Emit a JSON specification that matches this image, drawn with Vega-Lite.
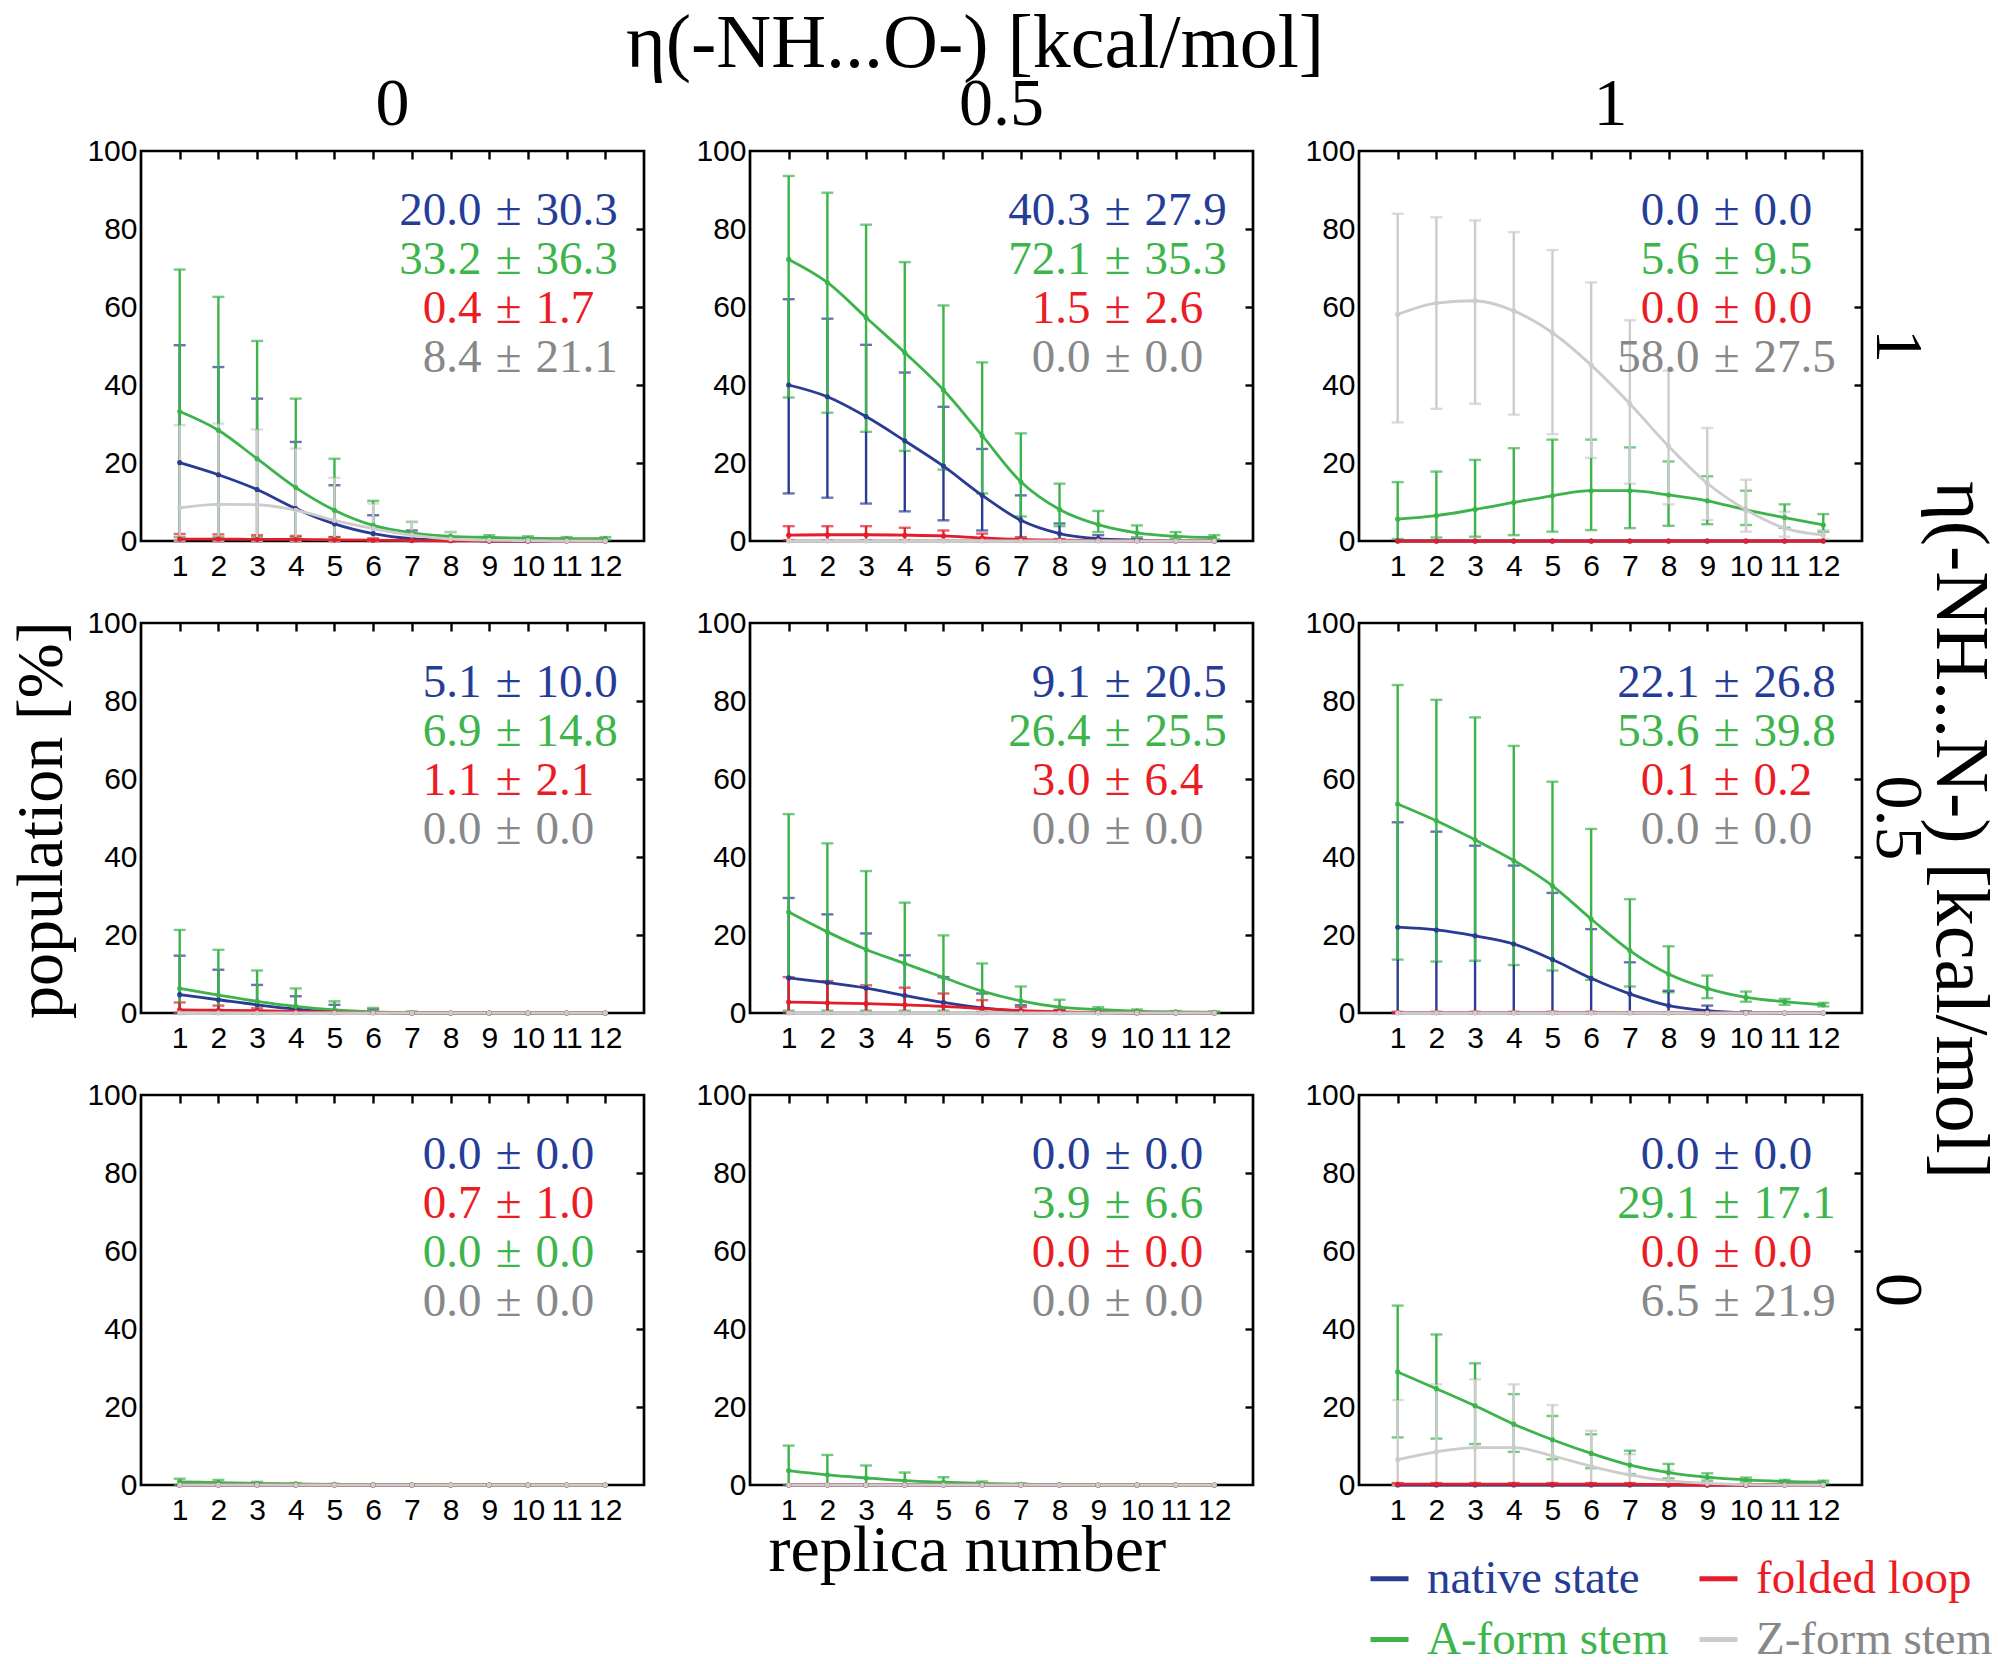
{
"$schema":"https://vega.github.io/schema/vega-lite/v6.json",
"background":"white",
"padding":{"left":8,"top":6,"right":0,"bottom":0},
"title":{"text":"replica number","orient":"bottom","anchor":"middle","font":"Liberation Serif","fontSize":66,"fontWeight":"normal","color":"black","offset":-144,"dx":-36},
"config":{
  "view":{"stroke":"black","strokeWidth":2.7},
  "axis":{"grid":false,"domain":false,"ticks":false,"title":null,"labelFont":"Liberation Sans","labelFontSize":30,"labelColor":"black"}
},
"vconcat":[{
"title":{"text":"population [%]","orient":"left","anchor":"middle","font":"Liberation Serif","fontSize":66,"fontWeight":"normal","color":"black","offset":10,"dx":-54},
"data":{"values":[
{"k":"a","o":"0","n":"1","s":"N","line":1,"a":"20.0","b":"30.3"},
{"k":"a","o":"0","n":"1","s":"A","line":2,"a":"33.2","b":"36.3"},
{"k":"a","o":"0","n":"1","s":"F","line":3,"a":"0.4","b":"1.7"},
{"k":"a","o":"0","n":"1","s":"Z","line":4,"a":"8.4","b":"21.1"},
{"k":"a","o":"0.5","n":"1","s":"N","line":1,"a":"40.3","b":"27.9"},
{"k":"a","o":"0.5","n":"1","s":"A","line":2,"a":"72.1","b":"35.3"},
{"k":"a","o":"0.5","n":"1","s":"F","line":3,"a":"1.5","b":"2.6"},
{"k":"a","o":"0.5","n":"1","s":"Z","line":4,"a":"0.0","b":"0.0"},
{"k":"a","o":"1","n":"1","s":"N","line":1,"a":"0.0","b":"0.0"},
{"k":"a","o":"1","n":"1","s":"A","line":2,"a":"5.6","b":"9.5"},
{"k":"a","o":"1","n":"1","s":"F","line":3,"a":"0.0","b":"0.0"},
{"k":"a","o":"1","n":"1","s":"Z","line":4,"a":"58.0","b":"27.5"},
{"k":"a","o":"0","n":"0.5","s":"N","line":1,"a":"5.1","b":"10.0"},
{"k":"a","o":"0","n":"0.5","s":"A","line":2,"a":"6.9","b":"14.8"},
{"k":"a","o":"0","n":"0.5","s":"F","line":3,"a":"1.1","b":"2.1"},
{"k":"a","o":"0","n":"0.5","s":"Z","line":4,"a":"0.0","b":"0.0"},
{"k":"a","o":"0.5","n":"0.5","s":"N","line":1,"a":"9.1","b":"20.5"},
{"k":"a","o":"0.5","n":"0.5","s":"A","line":2,"a":"26.4","b":"25.5"},
{"k":"a","o":"0.5","n":"0.5","s":"F","line":3,"a":"3.0","b":"6.4"},
{"k":"a","o":"0.5","n":"0.5","s":"Z","line":4,"a":"0.0","b":"0.0"},
{"k":"a","o":"1","n":"0.5","s":"N","line":1,"a":"22.1","b":"26.8"},
{"k":"a","o":"1","n":"0.5","s":"A","line":2,"a":"53.6","b":"39.8"},
{"k":"a","o":"1","n":"0.5","s":"F","line":3,"a":"0.1","b":"0.2"},
{"k":"a","o":"1","n":"0.5","s":"Z","line":4,"a":"0.0","b":"0.0"},
{"k":"a","o":"0","n":"0","s":"N","line":1,"a":"0.0","b":"0.0"},
{"k":"a","o":"0","n":"0","s":"F","line":2,"a":"0.7","b":"1.0"},
{"k":"a","o":"0","n":"0","s":"A","line":3,"a":"0.0","b":"0.0"},
{"k":"a","o":"0","n":"0","s":"Z","line":4,"a":"0.0","b":"0.0"},
{"k":"a","o":"0.5","n":"0","s":"N","line":1,"a":"0.0","b":"0.0"},
{"k":"a","o":"0.5","n":"0","s":"A","line":2,"a":"3.9","b":"6.6"},
{"k":"a","o":"0.5","n":"0","s":"F","line":3,"a":"0.0","b":"0.0"},
{"k":"a","o":"0.5","n":"0","s":"Z","line":4,"a":"0.0","b":"0.0"},
{"k":"a","o":"1","n":"0","s":"N","line":1,"a":"0.0","b":"0.0"},
{"k":"a","o":"1","n":"0","s":"A","line":2,"a":"29.1","b":"17.1"},
{"k":"a","o":"1","n":"0","s":"F","line":3,"a":"0.0","b":"0.0"},
{"k":"a","o":"1","n":"0","s":"Z","line":4,"a":"6.5","b":"21.9"},

{"k":"p","o":"0","n":"1","s":"N","r":1,"m":20.1,"lo":0,"hi":50.2},
{"k":"p","o":"0","n":"1","s":"N","r":2,"m":17.0,"lo":0,"hi":44.6},
{"k":"p","o":"0","n":"1","s":"N","r":3,"m":13.2,"lo":0,"hi":36.5},
{"k":"p","o":"0","n":"1","s":"N","r":4,"m":8.3,"lo":0,"hi":25.4},
{"k":"p","o":"0","n":"1","s":"N","r":5,"m":4.4,"lo":0,"hi":14.3},
{"k":"p","o":"0","n":"1","s":"N","r":6,"m":1.9,"lo":0,"hi":6.6},
{"k":"p","o":"0","n":"1","s":"N","r":7,"m":0.6,"lo":0,"hi":2.7},
{"k":"p","o":"0","n":"1","s":"N","r":8,"m":0.2,"lo":0,"hi":0.9},
{"k":"p","o":"0","n":"1","s":"N","r":9,"m":0,"lo":0,"hi":0.2},
{"k":"p","o":"0","n":"1","s":"N","r":10,"m":0,"lo":0,"hi":0},
{"k":"p","o":"0","n":"1","s":"N","r":11,"m":0,"lo":0,"hi":0},
{"k":"p","o":"0","n":"1","s":"N","r":12,"m":0,"lo":0,"hi":0},
{"k":"p","o":"0","n":"1","s":"A","r":1,"m":33.2,"lo":1,"hi":69.6},
{"k":"p","o":"0","n":"1","s":"A","r":2,"m":28.4,"lo":1,"hi":62.6},
{"k":"p","o":"0","n":"1","s":"A","r":3,"m":21.1,"lo":1,"hi":51.3},
{"k":"p","o":"0","n":"1","s":"A","r":4,"m":13.7,"lo":1,"hi":36.5},
{"k":"p","o":"0","n":"1","s":"A","r":5,"m":7.9,"lo":1,"hi":21.1},
{"k":"p","o":"0","n":"1","s":"A","r":6,"m":4.0,"lo":0.3,"hi":10.3},
{"k":"p","o":"0","n":"1","s":"A","r":7,"m":2.1,"lo":0.2,"hi":4.9},
{"k":"p","o":"0","n":"1","s":"A","r":8,"m":1.2,"lo":0.3,"hi":2.3},
{"k":"p","o":"0","n":"1","s":"A","r":9,"m":0.9,"lo":0.4,"hi":1.5},
{"k":"p","o":"0","n":"1","s":"A","r":10,"m":0.7,"lo":0.3,"hi":1.2},
{"k":"p","o":"0","n":"1","s":"A","r":11,"m":0.6,"lo":0.3,"hi":1.0},
{"k":"p","o":"0","n":"1","s":"A","r":12,"m":0.6,"lo":0.3,"hi":1.0},
{"k":"p","o":"0","n":"1","s":"F","r":1,"m":0.5,"lo":0,"hi":1.8},
{"k":"p","o":"0","n":"1","s":"F","r":2,"m":0.5,"lo":0,"hi":1.7},
{"k":"p","o":"0","n":"1","s":"F","r":3,"m":0.4,"lo":0,"hi":1.5},
{"k":"p","o":"0","n":"1","s":"F","r":4,"m":0.4,"lo":0,"hi":1.3},
{"k":"p","o":"0","n":"1","s":"F","r":5,"m":0.3,"lo":0,"hi":1.0},
{"k":"p","o":"0","n":"1","s":"F","r":6,"m":0.2,"lo":0,"hi":0.7},
{"k":"p","o":"0","n":"1","s":"F","r":7,"m":0.1,"lo":0,"hi":0.4},
{"k":"p","o":"0","n":"1","s":"F","r":8,"m":0.05,"lo":0,"hi":0.2},
{"k":"p","o":"0","n":"1","s":"F","r":9,"m":0,"lo":0,"hi":0},
{"k":"p","o":"0","n":"1","s":"F","r":10,"m":0,"lo":0,"hi":0},
{"k":"p","o":"0","n":"1","s":"F","r":11,"m":0,"lo":0,"hi":0},
{"k":"p","o":"0","n":"1","s":"F","r":12,"m":0,"lo":0,"hi":0},
{"k":"p","o":"0","n":"1","s":"Z","r":1,"m":8.5,"lo":0,"hi":29.7},
{"k":"p","o":"0","n":"1","s":"Z","r":2,"m":9.4,"lo":0,"hi":30.1},
{"k":"p","o":"0","n":"1","s":"Z","r":3,"m":9.3,"lo":0,"hi":28.6},
{"k":"p","o":"0","n":"1","s":"Z","r":4,"m":7.9,"lo":0,"hi":23.7},
{"k":"p","o":"0","n":"1","s":"Z","r":5,"m":5.3,"lo":0,"hi":16.2},
{"k":"p","o":"0","n":"1","s":"Z","r":6,"m":3.2,"lo":0,"hi":9.6},
{"k":"p","o":"0","n":"1","s":"Z","r":7,"m":1.5,"lo":0,"hi":4.9},
{"k":"p","o":"0","n":"1","s":"Z","r":8,"m":0.5,"lo":0,"hi":2.3},
{"k":"p","o":"0","n":"1","s":"Z","r":9,"m":0.2,"lo":0,"hi":1.0},
{"k":"p","o":"0","n":"1","s":"Z","r":10,"m":0.1,"lo":0,"hi":0.3},
{"k":"p","o":"0","n":"1","s":"Z","r":11,"m":0,"lo":0,"hi":0},
{"k":"p","o":"0","n":"1","s":"Z","r":12,"m":0,"lo":0,"hi":0},

{"k":"p","o":"0.5","n":"1","s":"N","r":1,"m":40.0,"lo":12.2,"hi":62.0},
{"k":"p","o":"0.5","n":"1","s":"N","r":2,"m":37.0,"lo":11.1,"hi":57.0},
{"k":"p","o":"0.5","n":"1","s":"N","r":3,"m":31.9,"lo":9.6,"hi":50.3},
{"k":"p","o":"0.5","n":"1","s":"N","r":4,"m":25.7,"lo":7.6,"hi":43.2},
{"k":"p","o":"0.5","n":"1","s":"N","r":5,"m":19.2,"lo":5.3,"hi":34.4},
{"k":"p","o":"0.5","n":"1","s":"N","r":6,"m":11.7,"lo":2.7,"hi":23.6},
{"k":"p","o":"0.5","n":"1","s":"N","r":7,"m":5.3,"lo":0.6,"hi":11.7},
{"k":"p","o":"0.5","n":"1","s":"N","r":8,"m":1.9,"lo":0,"hi":4.5},
{"k":"p","o":"0.5","n":"1","s":"N","r":9,"m":0.6,"lo":0,"hi":1.5},
{"k":"p","o":"0.5","n":"1","s":"N","r":10,"m":0.2,"lo":0,"hi":0.5},
{"k":"p","o":"0.5","n":"1","s":"N","r":11,"m":0,"lo":0,"hi":0.1},
{"k":"p","o":"0.5","n":"1","s":"N","r":12,"m":0,"lo":0,"hi":0},
{"k":"p","o":"0.5","n":"1","s":"A","r":1,"m":72.2,"lo":36.8,"hi":93.6},
{"k":"p","o":"0.5","n":"1","s":"A","r":2,"m":66.3,"lo":32.9,"hi":89.3},
{"k":"p","o":"0.5","n":"1","s":"A","r":3,"m":57.3,"lo":28.0,"hi":81.1},
{"k":"p","o":"0.5","n":"1","s":"A","r":4,"m":48.3,"lo":23.1,"hi":71.5},
{"k":"p","o":"0.5","n":"1","s":"A","r":5,"m":38.7,"lo":18.3,"hi":60.4},
{"k":"p","o":"0.5","n":"1","s":"A","r":6,"m":27.0,"lo":12.2,"hi":45.8},
{"k":"p","o":"0.5","n":"1","s":"A","r":7,"m":15.2,"lo":6.3,"hi":27.6},
{"k":"p","o":"0.5","n":"1","s":"A","r":8,"m":8.1,"lo":3.8,"hi":14.7},
{"k":"p","o":"0.5","n":"1","s":"A","r":9,"m":4.2,"lo":2.3,"hi":7.7},
{"k":"p","o":"0.5","n":"1","s":"A","r":10,"m":2.1,"lo":1.0,"hi":4.0},
{"k":"p","o":"0.5","n":"1","s":"A","r":11,"m":1.2,"lo":0.6,"hi":2.3},
{"k":"p","o":"0.5","n":"1","s":"A","r":12,"m":0.9,"lo":0.4,"hi":1.5},
{"k":"p","o":"0.5","n":"1","s":"F","r":1,"m":1.5,"lo":0.2,"hi":3.8},
{"k":"p","o":"0.5","n":"1","s":"F","r":2,"m":1.6,"lo":0.2,"hi":3.8},
{"k":"p","o":"0.5","n":"1","s":"F","r":3,"m":1.6,"lo":0.2,"hi":3.8},
{"k":"p","o":"0.5","n":"1","s":"F","r":4,"m":1.5,"lo":0.2,"hi":3.4},
{"k":"p","o":"0.5","n":"1","s":"F","r":5,"m":1.3,"lo":0.1,"hi":2.7},
{"k":"p","o":"0.5","n":"1","s":"F","r":6,"m":0.8,"lo":0,"hi":1.9},
{"k":"p","o":"0.5","n":"1","s":"F","r":7,"m":0.4,"lo":0,"hi":1.0},
{"k":"p","o":"0.5","n":"1","s":"F","r":8,"m":0.2,"lo":0,"hi":0.5},
{"k":"p","o":"0.5","n":"1","s":"F","r":9,"m":0.1,"lo":0,"hi":0.2},
{"k":"p","o":"0.5","n":"1","s":"F","r":10,"m":0,"lo":0,"hi":0},
{"k":"p","o":"0.5","n":"1","s":"F","r":11,"m":0,"lo":0,"hi":0},
{"k":"p","o":"0.5","n":"1","s":"F","r":12,"m":0,"lo":0,"hi":0},
{"k":"p","o":"0.5","n":"1","s":"Z","r":1,"m":0,"lo":0,"hi":0},
{"k":"p","o":"0.5","n":"1","s":"Z","r":2,"m":0,"lo":0,"hi":0},
{"k":"p","o":"0.5","n":"1","s":"Z","r":3,"m":0,"lo":0,"hi":0},
{"k":"p","o":"0.5","n":"1","s":"Z","r":4,"m":0,"lo":0,"hi":0},
{"k":"p","o":"0.5","n":"1","s":"Z","r":5,"m":0,"lo":0,"hi":0},
{"k":"p","o":"0.5","n":"1","s":"Z","r":6,"m":0,"lo":0,"hi":0},
{"k":"p","o":"0.5","n":"1","s":"Z","r":7,"m":0,"lo":0,"hi":0},
{"k":"p","o":"0.5","n":"1","s":"Z","r":8,"m":0,"lo":0,"hi":0},
{"k":"p","o":"0.5","n":"1","s":"Z","r":9,"m":0,"lo":0,"hi":0},
{"k":"p","o":"0.5","n":"1","s":"Z","r":10,"m":0,"lo":0,"hi":0},
{"k":"p","o":"0.5","n":"1","s":"Z","r":11,"m":0,"lo":0,"hi":0},
{"k":"p","o":"0.5","n":"1","s":"Z","r":12,"m":0,"lo":0,"hi":0},

{"k":"p","o":"1","n":"1","s":"N","r":1,"m":0,"lo":0,"hi":0},
{"k":"p","o":"1","n":"1","s":"N","r":2,"m":0,"lo":0,"hi":0},
{"k":"p","o":"1","n":"1","s":"N","r":3,"m":0,"lo":0,"hi":0},
{"k":"p","o":"1","n":"1","s":"N","r":4,"m":0,"lo":0,"hi":0},
{"k":"p","o":"1","n":"1","s":"N","r":5,"m":0,"lo":0,"hi":0},
{"k":"p","o":"1","n":"1","s":"N","r":6,"m":0,"lo":0,"hi":0},
{"k":"p","o":"1","n":"1","s":"N","r":7,"m":0,"lo":0,"hi":0},
{"k":"p","o":"1","n":"1","s":"N","r":8,"m":0,"lo":0,"hi":0},
{"k":"p","o":"1","n":"1","s":"N","r":9,"m":0,"lo":0,"hi":0},
{"k":"p","o":"1","n":"1","s":"N","r":10,"m":0,"lo":0,"hi":0},
{"k":"p","o":"1","n":"1","s":"N","r":11,"m":0,"lo":0,"hi":0},
{"k":"p","o":"1","n":"1","s":"N","r":12,"m":0,"lo":0,"hi":0},
{"k":"p","o":"1","n":"1","s":"A","r":1,"m":5.6,"lo":0.5,"hi":15.1},
{"k":"p","o":"1","n":"1","s":"A","r":2,"m":6.5,"lo":0.9,"hi":17.8},
{"k":"p","o":"1","n":"1","s":"A","r":3,"m":8.1,"lo":1.1,"hi":20.8},
{"k":"p","o":"1","n":"1","s":"A","r":4,"m":9.9,"lo":1.5,"hi":23.8},
{"k":"p","o":"1","n":"1","s":"A","r":5,"m":11.6,"lo":2.4,"hi":26.0},
{"k":"p","o":"1","n":"1","s":"A","r":6,"m":12.9,"lo":2.8,"hi":26.0},
{"k":"p","o":"1","n":"1","s":"A","r":7,"m":12.9,"lo":3.3,"hi":24.0},
{"k":"p","o":"1","n":"1","s":"A","r":8,"m":11.8,"lo":3.9,"hi":20.4},
{"k":"p","o":"1","n":"1","s":"A","r":9,"m":10.3,"lo":4.3,"hi":16.6},
{"k":"p","o":"1","n":"1","s":"A","r":10,"m":8.0,"lo":4.1,"hi":12.9},
{"k":"p","o":"1","n":"1","s":"A","r":11,"m":6.0,"lo":3.4,"hi":9.4},
{"k":"p","o":"1","n":"1","s":"A","r":12,"m":4.1,"lo":2.4,"hi":6.9},
{"k":"p","o":"1","n":"1","s":"F","r":1,"m":0,"lo":0,"hi":0},
{"k":"p","o":"1","n":"1","s":"F","r":2,"m":0,"lo":0,"hi":0},
{"k":"p","o":"1","n":"1","s":"F","r":3,"m":0,"lo":0,"hi":0},
{"k":"p","o":"1","n":"1","s":"F","r":4,"m":0,"lo":0,"hi":0},
{"k":"p","o":"1","n":"1","s":"F","r":5,"m":0,"lo":0,"hi":0},
{"k":"p","o":"1","n":"1","s":"F","r":6,"m":0,"lo":0,"hi":0},
{"k":"p","o":"1","n":"1","s":"F","r":7,"m":0,"lo":0,"hi":0},
{"k":"p","o":"1","n":"1","s":"F","r":8,"m":0,"lo":0,"hi":0},
{"k":"p","o":"1","n":"1","s":"F","r":9,"m":0,"lo":0,"hi":0},
{"k":"p","o":"1","n":"1","s":"F","r":10,"m":0,"lo":0,"hi":0},
{"k":"p","o":"1","n":"1","s":"F","r":11,"m":0,"lo":0,"hi":0},
{"k":"p","o":"1","n":"1","s":"F","r":12,"m":0,"lo":0,"hi":0},
{"k":"p","o":"1","n":"1","s":"Z","r":1,"m":58.1,"lo":30.4,"hi":83.9},
{"k":"p","o":"1","n":"1","s":"Z","r":2,"m":61.0,"lo":33.9,"hi":83.0},
{"k":"p","o":"1","n":"1","s":"Z","r":3,"m":61.6,"lo":35.2,"hi":82.2},
{"k":"p","o":"1","n":"1","s":"Z","r":4,"m":59.0,"lo":32.4,"hi":79.2},
{"k":"p","o":"1","n":"1","s":"Z","r":5,"m":53.4,"lo":27.4,"hi":74.6},
{"k":"p","o":"1","n":"1","s":"Z","r":6,"m":45.1,"lo":21.3,"hi":66.3},
{"k":"p","o":"1","n":"1","s":"Z","r":7,"m":35.2,"lo":14.7,"hi":56.6},
{"k":"p","o":"1","n":"1","s":"Z","r":8,"m":24.3,"lo":9.4,"hi":43.7},
{"k":"p","o":"1","n":"1","s":"Z","r":9,"m":14.8,"lo":5.4,"hi":29.0},
{"k":"p","o":"1","n":"1","s":"Z","r":10,"m":8.0,"lo":2.4,"hi":15.7},
{"k":"p","o":"1","n":"1","s":"Z","r":11,"m":3.3,"lo":1.1,"hi":7.5},
{"k":"p","o":"1","n":"1","s":"Z","r":12,"m":1.5,"lo":0.5,"hi":2.8},

{"k":"p","o":"0","n":"0.5","s":"N","r":1,"m":4.7,"lo":0,"hi":14.7},
{"k":"p","o":"0","n":"0.5","s":"N","r":2,"m":3.4,"lo":0,"hi":11.1},
{"k":"p","o":"0","n":"0.5","s":"N","r":3,"m":2.1,"lo":0,"hi":7.2},
{"k":"p","o":"0","n":"0.5","s":"N","r":4,"m":1.0,"lo":0,"hi":4.3},
{"k":"p","o":"0","n":"0.5","s":"N","r":5,"m":0.3,"lo":0,"hi":2.1},
{"k":"p","o":"0","n":"0.5","s":"N","r":6,"m":0.1,"lo":0,"hi":0.9},
{"k":"p","o":"0","n":"0.5","s":"N","r":7,"m":0,"lo":0,"hi":0.2},
{"k":"p","o":"0","n":"0.5","s":"N","r":8,"m":0,"lo":0,"hi":0},
{"k":"p","o":"0","n":"0.5","s":"N","r":9,"m":0,"lo":0,"hi":0},
{"k":"p","o":"0","n":"0.5","s":"N","r":10,"m":0,"lo":0,"hi":0},
{"k":"p","o":"0","n":"0.5","s":"N","r":11,"m":0,"lo":0,"hi":0},
{"k":"p","o":"0","n":"0.5","s":"N","r":12,"m":0,"lo":0,"hi":0},
{"k":"p","o":"0","n":"0.5","s":"A","r":1,"m":6.3,"lo":0,"hi":21.3},
{"k":"p","o":"0","n":"0.5","s":"A","r":2,"m":4.6,"lo":0,"hi":16.2},
{"k":"p","o":"0","n":"0.5","s":"A","r":3,"m":3.0,"lo":0,"hi":10.9},
{"k":"p","o":"0","n":"0.5","s":"A","r":4,"m":1.7,"lo":0,"hi":6.3},
{"k":"p","o":"0","n":"0.5","s":"A","r":5,"m":0.8,"lo":0,"hi":3.0},
{"k":"p","o":"0","n":"0.5","s":"A","r":6,"m":0.3,"lo":0,"hi":1.3},
{"k":"p","o":"0","n":"0.5","s":"A","r":7,"m":0.1,"lo":0,"hi":0.4},
{"k":"p","o":"0","n":"0.5","s":"A","r":8,"m":0,"lo":0,"hi":0.1},
{"k":"p","o":"0","n":"0.5","s":"A","r":9,"m":0,"lo":0,"hi":0},
{"k":"p","o":"0","n":"0.5","s":"A","r":10,"m":0,"lo":0,"hi":0},
{"k":"p","o":"0","n":"0.5","s":"A","r":11,"m":0,"lo":0,"hi":0},
{"k":"p","o":"0","n":"0.5","s":"A","r":12,"m":0,"lo":0,"hi":0},
{"k":"p","o":"0","n":"0.5","s":"F","r":1,"m":0.8,"lo":0,"hi":2.7},
{"k":"p","o":"0","n":"0.5","s":"F","r":2,"m":0.7,"lo":0,"hi":1.9},
{"k":"p","o":"0","n":"0.5","s":"F","r":3,"m":0.6,"lo":0,"hi":1.2},
{"k":"p","o":"0","n":"0.5","s":"F","r":4,"m":0.4,"lo":0,"hi":0.9},
{"k":"p","o":"0","n":"0.5","s":"F","r":5,"m":0.2,"lo":0,"hi":0.5},
{"k":"p","o":"0","n":"0.5","s":"F","r":6,"m":0.1,"lo":0,"hi":0.2},
{"k":"p","o":"0","n":"0.5","s":"F","r":7,"m":0,"lo":0,"hi":0},
{"k":"p","o":"0","n":"0.5","s":"F","r":8,"m":0,"lo":0,"hi":0},
{"k":"p","o":"0","n":"0.5","s":"F","r":9,"m":0,"lo":0,"hi":0},
{"k":"p","o":"0","n":"0.5","s":"F","r":10,"m":0,"lo":0,"hi":0},
{"k":"p","o":"0","n":"0.5","s":"F","r":11,"m":0,"lo":0,"hi":0},
{"k":"p","o":"0","n":"0.5","s":"F","r":12,"m":0,"lo":0,"hi":0},
{"k":"p","o":"0","n":"0.5","s":"Z","r":1,"m":0,"lo":0,"hi":0},
{"k":"p","o":"0","n":"0.5","s":"Z","r":2,"m":0,"lo":0,"hi":0},
{"k":"p","o":"0","n":"0.5","s":"Z","r":3,"m":0,"lo":0,"hi":0},
{"k":"p","o":"0","n":"0.5","s":"Z","r":4,"m":0,"lo":0,"hi":0},
{"k":"p","o":"0","n":"0.5","s":"Z","r":5,"m":0,"lo":0,"hi":0},
{"k":"p","o":"0","n":"0.5","s":"Z","r":6,"m":0,"lo":0,"hi":0},
{"k":"p","o":"0","n":"0.5","s":"Z","r":7,"m":0,"lo":0,"hi":0},
{"k":"p","o":"0","n":"0.5","s":"Z","r":8,"m":0,"lo":0,"hi":0},
{"k":"p","o":"0","n":"0.5","s":"Z","r":9,"m":0,"lo":0,"hi":0},
{"k":"p","o":"0","n":"0.5","s":"Z","r":10,"m":0,"lo":0,"hi":0},
{"k":"p","o":"0","n":"0.5","s":"Z","r":11,"m":0,"lo":0,"hi":0},
{"k":"p","o":"0","n":"0.5","s":"Z","r":12,"m":0,"lo":0,"hi":0},

{"k":"p","o":"0.5","n":"0.5","s":"N","r":1,"m":9.0,"lo":0,"hi":29.5},
{"k":"p","o":"0.5","n":"0.5","s":"N","r":2,"m":7.8,"lo":0,"hi":25.3},
{"k":"p","o":"0.5","n":"0.5","s":"N","r":3,"m":6.4,"lo":0,"hi":20.4},
{"k":"p","o":"0.5","n":"0.5","s":"N","r":4,"m":4.5,"lo":0,"hi":14.8},
{"k":"p","o":"0.5","n":"0.5","s":"N","r":5,"m":2.7,"lo":0,"hi":9.2},
{"k":"p","o":"0.5","n":"0.5","s":"N","r":6,"m":1.3,"lo":0,"hi":5.0},
{"k":"p","o":"0.5","n":"0.5","s":"N","r":7,"m":0.5,"lo":0,"hi":2.0},
{"k":"p","o":"0.5","n":"0.5","s":"N","r":8,"m":0.2,"lo":0,"hi":0.7},
{"k":"p","o":"0.5","n":"0.5","s":"N","r":9,"m":0.1,"lo":0,"hi":0.2},
{"k":"p","o":"0.5","n":"0.5","s":"N","r":10,"m":0,"lo":0,"hi":0},
{"k":"p","o":"0.5","n":"0.5","s":"N","r":11,"m":0,"lo":0,"hi":0},
{"k":"p","o":"0.5","n":"0.5","s":"N","r":12,"m":0,"lo":0,"hi":0},
{"k":"p","o":"0.5","n":"0.5","s":"A","r":1,"m":25.9,"lo":0.6,"hi":51.0},
{"k":"p","o":"0.5","n":"0.5","s":"A","r":2,"m":20.8,"lo":0.6,"hi":43.5},
{"k":"p","o":"0.5","n":"0.5","s":"A","r":3,"m":16.3,"lo":0.6,"hi":36.4},
{"k":"p","o":"0.5","n":"0.5","s":"A","r":4,"m":12.7,"lo":0.6,"hi":28.3},
{"k":"p","o":"0.5","n":"0.5","s":"A","r":5,"m":9.1,"lo":0.6,"hi":19.9},
{"k":"p","o":"0.5","n":"0.5","s":"A","r":6,"m":5.6,"lo":0.3,"hi":12.7},
{"k":"p","o":"0.5","n":"0.5","s":"A","r":7,"m":3.1,"lo":0.2,"hi":6.8},
{"k":"p","o":"0.5","n":"0.5","s":"A","r":8,"m":1.5,"lo":0.2,"hi":3.4},
{"k":"p","o":"0.5","n":"0.5","s":"A","r":9,"m":0.9,"lo":0.3,"hi":1.5},
{"k":"p","o":"0.5","n":"0.5","s":"A","r":10,"m":0.5,"lo":0.2,"hi":0.9},
{"k":"p","o":"0.5","n":"0.5","s":"A","r":11,"m":0.3,"lo":0.1,"hi":0.5},
{"k":"p","o":"0.5","n":"0.5","s":"A","r":12,"m":0.2,"lo":0.1,"hi":0.4},
{"k":"p","o":"0.5","n":"0.5","s":"F","r":1,"m":2.8,"lo":0,"hi":9.2},
{"k":"p","o":"0.5","n":"0.5","s":"F","r":2,"m":2.6,"lo":0,"hi":8.2},
{"k":"p","o":"0.5","n":"0.5","s":"F","r":3,"m":2.4,"lo":0,"hi":7.1},
{"k":"p","o":"0.5","n":"0.5","s":"F","r":4,"m":2.1,"lo":0,"hi":6.5},
{"k":"p","o":"0.5","n":"0.5","s":"F","r":5,"m":1.7,"lo":0,"hi":5.0},
{"k":"p","o":"0.5","n":"0.5","s":"F","r":6,"m":1.1,"lo":0,"hi":3.3},
{"k":"p","o":"0.5","n":"0.5","s":"F","r":7,"m":0.6,"lo":0,"hi":1.5},
{"k":"p","o":"0.5","n":"0.5","s":"F","r":8,"m":0.3,"lo":0,"hi":0.8},
{"k":"p","o":"0.5","n":"0.5","s":"F","r":9,"m":0.1,"lo":0,"hi":0.2},
{"k":"p","o":"0.5","n":"0.5","s":"F","r":10,"m":0,"lo":0,"hi":0},
{"k":"p","o":"0.5","n":"0.5","s":"F","r":11,"m":0,"lo":0,"hi":0},
{"k":"p","o":"0.5","n":"0.5","s":"F","r":12,"m":0,"lo":0,"hi":0},
{"k":"p","o":"0.5","n":"0.5","s":"Z","r":1,"m":0,"lo":0,"hi":0},
{"k":"p","o":"0.5","n":"0.5","s":"Z","r":2,"m":0,"lo":0,"hi":0},
{"k":"p","o":"0.5","n":"0.5","s":"Z","r":3,"m":0,"lo":0,"hi":0},
{"k":"p","o":"0.5","n":"0.5","s":"Z","r":4,"m":0,"lo":0,"hi":0},
{"k":"p","o":"0.5","n":"0.5","s":"Z","r":5,"m":0,"lo":0,"hi":0},
{"k":"p","o":"0.5","n":"0.5","s":"Z","r":6,"m":0,"lo":0,"hi":0},
{"k":"p","o":"0.5","n":"0.5","s":"Z","r":7,"m":0,"lo":0,"hi":0},
{"k":"p","o":"0.5","n":"0.5","s":"Z","r":8,"m":0,"lo":0,"hi":0},
{"k":"p","o":"0.5","n":"0.5","s":"Z","r":9,"m":0,"lo":0,"hi":0},
{"k":"p","o":"0.5","n":"0.5","s":"Z","r":10,"m":0,"lo":0,"hi":0},
{"k":"p","o":"0.5","n":"0.5","s":"Z","r":11,"m":0,"lo":0,"hi":0},
{"k":"p","o":"0.5","n":"0.5","s":"Z","r":12,"m":0,"lo":0,"hi":0},

{"k":"p","o":"1","n":"0.5","s":"N","r":1,"m":22.0,"lo":0,"hi":48.9},
{"k":"p","o":"1","n":"0.5","s":"N","r":2,"m":21.3,"lo":0,"hi":46.5},
{"k":"p","o":"1","n":"0.5","s":"N","r":3,"m":19.8,"lo":0,"hi":42.9},
{"k":"p","o":"1","n":"0.5","s":"N","r":4,"m":17.7,"lo":0,"hi":37.8},
{"k":"p","o":"1","n":"0.5","s":"N","r":5,"m":13.7,"lo":0,"hi":30.8},
{"k":"p","o":"1","n":"0.5","s":"N","r":6,"m":8.9,"lo":0,"hi":21.5},
{"k":"p","o":"1","n":"0.5","s":"N","r":7,"m":4.9,"lo":0,"hi":13.0},
{"k":"p","o":"1","n":"0.5","s":"N","r":8,"m":1.9,"lo":0,"hi":5.7},
{"k":"p","o":"1","n":"0.5","s":"N","r":9,"m":0.6,"lo":0,"hi":1.9},
{"k":"p","o":"1","n":"0.5","s":"N","r":10,"m":0.1,"lo":0,"hi":0.4},
{"k":"p","o":"1","n":"0.5","s":"N","r":11,"m":0,"lo":0,"hi":0},
{"k":"p","o":"1","n":"0.5","s":"N","r":12,"m":0,"lo":0,"hi":0},
{"k":"p","o":"1","n":"0.5","s":"A","r":1,"m":53.6,"lo":13.7,"hi":84.1},
{"k":"p","o":"1","n":"0.5","s":"A","r":2,"m":49.3,"lo":13.2,"hi":80.3},
{"k":"p","o":"1","n":"0.5","s":"A","r":3,"m":44.4,"lo":13.4,"hi":75.8},
{"k":"p","o":"1","n":"0.5","s":"A","r":4,"m":39.1,"lo":12.3,"hi":68.5},
{"k":"p","o":"1","n":"0.5","s":"A","r":5,"m":32.6,"lo":10.9,"hi":59.3},
{"k":"p","o":"1","n":"0.5","s":"A","r":6,"m":24.1,"lo":8.5,"hi":47.2},
{"k":"p","o":"1","n":"0.5","s":"A","r":7,"m":16.0,"lo":6.8,"hi":29.2},
{"k":"p","o":"1","n":"0.5","s":"A","r":8,"m":10.0,"lo":5.3,"hi":17.1},
{"k":"p","o":"1","n":"0.5","s":"A","r":9,"m":6.3,"lo":3.8,"hi":9.6},
{"k":"p","o":"1","n":"0.5","s":"A","r":10,"m":4.0,"lo":2.9,"hi":5.5},
{"k":"p","o":"1","n":"0.5","s":"A","r":11,"m":2.9,"lo":2.1,"hi":3.6},
{"k":"p","o":"1","n":"0.5","s":"A","r":12,"m":2.1,"lo":1.7,"hi":2.6},
{"k":"p","o":"1","n":"0.5","s":"F","r":1,"m":0.1,"lo":0,"hi":0.3},
{"k":"p","o":"1","n":"0.5","s":"F","r":2,"m":0.1,"lo":0,"hi":0.3},
{"k":"p","o":"1","n":"0.5","s":"F","r":3,"m":0.1,"lo":0,"hi":0.3},
{"k":"p","o":"1","n":"0.5","s":"F","r":4,"m":0.1,"lo":0,"hi":0.3},
{"k":"p","o":"1","n":"0.5","s":"F","r":5,"m":0.1,"lo":0,"hi":0.3},
{"k":"p","o":"1","n":"0.5","s":"F","r":6,"m":0.1,"lo":0,"hi":0.3},
{"k":"p","o":"1","n":"0.5","s":"F","r":7,"m":0.05,"lo":0,"hi":0.1},
{"k":"p","o":"1","n":"0.5","s":"F","r":8,"m":0.05,"lo":0,"hi":0.1},
{"k":"p","o":"1","n":"0.5","s":"F","r":9,"m":0,"lo":0,"hi":0},
{"k":"p","o":"1","n":"0.5","s":"F","r":10,"m":0,"lo":0,"hi":0},
{"k":"p","o":"1","n":"0.5","s":"F","r":11,"m":0,"lo":0,"hi":0},
{"k":"p","o":"1","n":"0.5","s":"F","r":12,"m":0,"lo":0,"hi":0},
{"k":"p","o":"1","n":"0.5","s":"Z","r":1,"m":0,"lo":0,"hi":0},
{"k":"p","o":"1","n":"0.5","s":"Z","r":2,"m":0,"lo":0,"hi":0},
{"k":"p","o":"1","n":"0.5","s":"Z","r":3,"m":0,"lo":0,"hi":0},
{"k":"p","o":"1","n":"0.5","s":"Z","r":4,"m":0,"lo":0,"hi":0},
{"k":"p","o":"1","n":"0.5","s":"Z","r":5,"m":0,"lo":0,"hi":0},
{"k":"p","o":"1","n":"0.5","s":"Z","r":6,"m":0,"lo":0,"hi":0},
{"k":"p","o":"1","n":"0.5","s":"Z","r":7,"m":0,"lo":0,"hi":0},
{"k":"p","o":"1","n":"0.5","s":"Z","r":8,"m":0,"lo":0,"hi":0},
{"k":"p","o":"1","n":"0.5","s":"Z","r":9,"m":0,"lo":0,"hi":0},
{"k":"p","o":"1","n":"0.5","s":"Z","r":10,"m":0,"lo":0,"hi":0},
{"k":"p","o":"1","n":"0.5","s":"Z","r":11,"m":0,"lo":0,"hi":0},
{"k":"p","o":"1","n":"0.5","s":"Z","r":12,"m":0,"lo":0,"hi":0},

{"k":"p","o":"0","n":"0","s":"N","r":1,"m":0,"lo":0,"hi":0},
{"k":"p","o":"0","n":"0","s":"N","r":2,"m":0,"lo":0,"hi":0},
{"k":"p","o":"0","n":"0","s":"N","r":3,"m":0,"lo":0,"hi":0},
{"k":"p","o":"0","n":"0","s":"N","r":4,"m":0,"lo":0,"hi":0},
{"k":"p","o":"0","n":"0","s":"N","r":5,"m":0,"lo":0,"hi":0},
{"k":"p","o":"0","n":"0","s":"N","r":6,"m":0,"lo":0,"hi":0},
{"k":"p","o":"0","n":"0","s":"N","r":7,"m":0,"lo":0,"hi":0},
{"k":"p","o":"0","n":"0","s":"N","r":8,"m":0,"lo":0,"hi":0},
{"k":"p","o":"0","n":"0","s":"N","r":9,"m":0,"lo":0,"hi":0},
{"k":"p","o":"0","n":"0","s":"N","r":10,"m":0,"lo":0,"hi":0},
{"k":"p","o":"0","n":"0","s":"N","r":11,"m":0,"lo":0,"hi":0},
{"k":"p","o":"0","n":"0","s":"N","r":12,"m":0,"lo":0,"hi":0},
{"k":"p","o":"0","n":"0","s":"A","r":1,"m":0.8,"lo":0,"hi":1.6},
{"k":"p","o":"0","n":"0","s":"A","r":2,"m":0.6,"lo":0,"hi":1.3},
{"k":"p","o":"0","n":"0","s":"A","r":3,"m":0.4,"lo":0,"hi":0.8},
{"k":"p","o":"0","n":"0","s":"A","r":4,"m":0.3,"lo":0,"hi":0.5},
{"k":"p","o":"0","n":"0","s":"A","r":5,"m":0.15,"lo":0,"hi":0.3},
{"k":"p","o":"0","n":"0","s":"A","r":6,"m":0.1,"lo":0,"hi":0.2},
{"k":"p","o":"0","n":"0","s":"A","r":7,"m":0.05,"lo":0,"hi":0.1},
{"k":"p","o":"0","n":"0","s":"A","r":8,"m":0,"lo":0,"hi":0},
{"k":"p","o":"0","n":"0","s":"A","r":9,"m":0,"lo":0,"hi":0},
{"k":"p","o":"0","n":"0","s":"A","r":10,"m":0,"lo":0,"hi":0},
{"k":"p","o":"0","n":"0","s":"A","r":11,"m":0,"lo":0,"hi":0},
{"k":"p","o":"0","n":"0","s":"A","r":12,"m":0,"lo":0,"hi":0},
{"k":"p","o":"0","n":"0","s":"F","r":1,"m":0,"lo":0,"hi":0},
{"k":"p","o":"0","n":"0","s":"F","r":2,"m":0,"lo":0,"hi":0},
{"k":"p","o":"0","n":"0","s":"F","r":3,"m":0,"lo":0,"hi":0},
{"k":"p","o":"0","n":"0","s":"F","r":4,"m":0,"lo":0,"hi":0},
{"k":"p","o":"0","n":"0","s":"F","r":5,"m":0,"lo":0,"hi":0},
{"k":"p","o":"0","n":"0","s":"F","r":6,"m":0,"lo":0,"hi":0},
{"k":"p","o":"0","n":"0","s":"F","r":7,"m":0,"lo":0,"hi":0},
{"k":"p","o":"0","n":"0","s":"F","r":8,"m":0,"lo":0,"hi":0},
{"k":"p","o":"0","n":"0","s":"F","r":9,"m":0,"lo":0,"hi":0},
{"k":"p","o":"0","n":"0","s":"F","r":10,"m":0,"lo":0,"hi":0},
{"k":"p","o":"0","n":"0","s":"F","r":11,"m":0,"lo":0,"hi":0},
{"k":"p","o":"0","n":"0","s":"F","r":12,"m":0,"lo":0,"hi":0},
{"k":"p","o":"0","n":"0","s":"Z","r":1,"m":0,"lo":0,"hi":0},
{"k":"p","o":"0","n":"0","s":"Z","r":2,"m":0,"lo":0,"hi":0},
{"k":"p","o":"0","n":"0","s":"Z","r":3,"m":0,"lo":0,"hi":0},
{"k":"p","o":"0","n":"0","s":"Z","r":4,"m":0,"lo":0,"hi":0},
{"k":"p","o":"0","n":"0","s":"Z","r":5,"m":0,"lo":0,"hi":0},
{"k":"p","o":"0","n":"0","s":"Z","r":6,"m":0,"lo":0,"hi":0},
{"k":"p","o":"0","n":"0","s":"Z","r":7,"m":0,"lo":0,"hi":0},
{"k":"p","o":"0","n":"0","s":"Z","r":8,"m":0,"lo":0,"hi":0},
{"k":"p","o":"0","n":"0","s":"Z","r":9,"m":0,"lo":0,"hi":0},
{"k":"p","o":"0","n":"0","s":"Z","r":10,"m":0,"lo":0,"hi":0},
{"k":"p","o":"0","n":"0","s":"Z","r":11,"m":0,"lo":0,"hi":0},
{"k":"p","o":"0","n":"0","s":"Z","r":12,"m":0,"lo":0,"hi":0},

{"k":"p","o":"0.5","n":"0","s":"N","r":1,"m":0,"lo":0,"hi":0},
{"k":"p","o":"0.5","n":"0","s":"N","r":2,"m":0,"lo":0,"hi":0},
{"k":"p","o":"0.5","n":"0","s":"N","r":3,"m":0,"lo":0,"hi":0},
{"k":"p","o":"0.5","n":"0","s":"N","r":4,"m":0,"lo":0,"hi":0},
{"k":"p","o":"0.5","n":"0","s":"N","r":5,"m":0,"lo":0,"hi":0},
{"k":"p","o":"0.5","n":"0","s":"N","r":6,"m":0,"lo":0,"hi":0},
{"k":"p","o":"0.5","n":"0","s":"N","r":7,"m":0,"lo":0,"hi":0},
{"k":"p","o":"0.5","n":"0","s":"N","r":8,"m":0,"lo":0,"hi":0},
{"k":"p","o":"0.5","n":"0","s":"N","r":9,"m":0,"lo":0,"hi":0},
{"k":"p","o":"0.5","n":"0","s":"N","r":10,"m":0,"lo":0,"hi":0},
{"k":"p","o":"0.5","n":"0","s":"N","r":11,"m":0,"lo":0,"hi":0},
{"k":"p","o":"0.5","n":"0","s":"N","r":12,"m":0,"lo":0,"hi":0},
{"k":"p","o":"0.5","n":"0","s":"A","r":1,"m":3.7,"lo":0,"hi":10.1},
{"k":"p","o":"0.5","n":"0","s":"A","r":2,"m":2.6,"lo":0,"hi":7.7},
{"k":"p","o":"0.5","n":"0","s":"A","r":3,"m":1.8,"lo":0,"hi":5.0},
{"k":"p","o":"0.5","n":"0","s":"A","r":4,"m":1.1,"lo":0,"hi":3.2},
{"k":"p","o":"0.5","n":"0","s":"A","r":5,"m":0.7,"lo":0,"hi":2.0},
{"k":"p","o":"0.5","n":"0","s":"A","r":6,"m":0.4,"lo":0,"hi":0.9},
{"k":"p","o":"0.5","n":"0","s":"A","r":7,"m":0.2,"lo":0,"hi":0.4},
{"k":"p","o":"0.5","n":"0","s":"A","r":8,"m":0.1,"lo":0,"hi":0.2},
{"k":"p","o":"0.5","n":"0","s":"A","r":9,"m":0,"lo":0,"hi":0},
{"k":"p","o":"0.5","n":"0","s":"A","r":10,"m":0,"lo":0,"hi":0},
{"k":"p","o":"0.5","n":"0","s":"A","r":11,"m":0,"lo":0,"hi":0},
{"k":"p","o":"0.5","n":"0","s":"A","r":12,"m":0,"lo":0,"hi":0},
{"k":"p","o":"0.5","n":"0","s":"F","r":1,"m":0,"lo":0,"hi":0},
{"k":"p","o":"0.5","n":"0","s":"F","r":2,"m":0,"lo":0,"hi":0},
{"k":"p","o":"0.5","n":"0","s":"F","r":3,"m":0,"lo":0,"hi":0},
{"k":"p","o":"0.5","n":"0","s":"F","r":4,"m":0,"lo":0,"hi":0},
{"k":"p","o":"0.5","n":"0","s":"F","r":5,"m":0,"lo":0,"hi":0},
{"k":"p","o":"0.5","n":"0","s":"F","r":6,"m":0,"lo":0,"hi":0},
{"k":"p","o":"0.5","n":"0","s":"F","r":7,"m":0,"lo":0,"hi":0},
{"k":"p","o":"0.5","n":"0","s":"F","r":8,"m":0,"lo":0,"hi":0},
{"k":"p","o":"0.5","n":"0","s":"F","r":9,"m":0,"lo":0,"hi":0},
{"k":"p","o":"0.5","n":"0","s":"F","r":10,"m":0,"lo":0,"hi":0},
{"k":"p","o":"0.5","n":"0","s":"F","r":11,"m":0,"lo":0,"hi":0},
{"k":"p","o":"0.5","n":"0","s":"F","r":12,"m":0,"lo":0,"hi":0},
{"k":"p","o":"0.5","n":"0","s":"Z","r":1,"m":0,"lo":0,"hi":0},
{"k":"p","o":"0.5","n":"0","s":"Z","r":2,"m":0,"lo":0,"hi":0},
{"k":"p","o":"0.5","n":"0","s":"Z","r":3,"m":0,"lo":0,"hi":0},
{"k":"p","o":"0.5","n":"0","s":"Z","r":4,"m":0,"lo":0,"hi":0},
{"k":"p","o":"0.5","n":"0","s":"Z","r":5,"m":0,"lo":0,"hi":0},
{"k":"p","o":"0.5","n":"0","s":"Z","r":6,"m":0,"lo":0,"hi":0},
{"k":"p","o":"0.5","n":"0","s":"Z","r":7,"m":0,"lo":0,"hi":0},
{"k":"p","o":"0.5","n":"0","s":"Z","r":8,"m":0,"lo":0,"hi":0},
{"k":"p","o":"0.5","n":"0","s":"Z","r":9,"m":0,"lo":0,"hi":0},
{"k":"p","o":"0.5","n":"0","s":"Z","r":10,"m":0,"lo":0,"hi":0},
{"k":"p","o":"0.5","n":"0","s":"Z","r":11,"m":0,"lo":0,"hi":0},
{"k":"p","o":"0.5","n":"0","s":"Z","r":12,"m":0,"lo":0,"hi":0},

{"k":"p","o":"1","n":"0","s":"N","r":1,"m":0,"lo":0,"hi":0},
{"k":"p","o":"1","n":"0","s":"N","r":2,"m":0,"lo":0,"hi":0},
{"k":"p","o":"1","n":"0","s":"N","r":3,"m":0,"lo":0,"hi":0},
{"k":"p","o":"1","n":"0","s":"N","r":4,"m":0,"lo":0,"hi":0},
{"k":"p","o":"1","n":"0","s":"N","r":5,"m":0,"lo":0,"hi":0},
{"k":"p","o":"1","n":"0","s":"N","r":6,"m":0,"lo":0,"hi":0},
{"k":"p","o":"1","n":"0","s":"N","r":7,"m":0,"lo":0,"hi":0},
{"k":"p","o":"1","n":"0","s":"N","r":8,"m":0,"lo":0,"hi":0},
{"k":"p","o":"1","n":"0","s":"N","r":9,"m":0,"lo":0,"hi":0},
{"k":"p","o":"1","n":"0","s":"N","r":10,"m":0,"lo":0,"hi":0},
{"k":"p","o":"1","n":"0","s":"N","r":11,"m":0,"lo":0,"hi":0},
{"k":"p","o":"1","n":"0","s":"N","r":12,"m":0,"lo":0,"hi":0},
{"k":"p","o":"1","n":"0","s":"A","r":1,"m":29.0,"lo":12.2,"hi":46.0},
{"k":"p","o":"1","n":"0","s":"A","r":2,"m":24.7,"lo":11.9,"hi":38.6},
{"k":"p","o":"1","n":"0","s":"A","r":3,"m":20.3,"lo":10.5,"hi":31.2},
{"k":"p","o":"1","n":"0","s":"A","r":4,"m":15.6,"lo":8.5,"hi":23.3},
{"k":"p","o":"1","n":"0","s":"A","r":5,"m":11.6,"lo":6.6,"hi":17.7},
{"k":"p","o":"1","n":"0","s":"A","r":6,"m":8.1,"lo":4.3,"hi":13.0},
{"k":"p","o":"1","n":"0","s":"A","r":7,"m":5.1,"lo":2.8,"hi":8.8},
{"k":"p","o":"1","n":"0","s":"A","r":8,"m":3.2,"lo":1.7,"hi":5.4},
{"k":"p","o":"1","n":"0","s":"A","r":9,"m":2.0,"lo":1.1,"hi":3.0},
{"k":"p","o":"1","n":"0","s":"A","r":10,"m":1.3,"lo":0.8,"hi":1.9},
{"k":"p","o":"1","n":"0","s":"A","r":11,"m":0.9,"lo":0.5,"hi":1.3},
{"k":"p","o":"1","n":"0","s":"A","r":12,"m":0.7,"lo":0.4,"hi":1.1},
{"k":"p","o":"1","n":"0","s":"F","r":1,"m":0.2,"lo":0,"hi":0.5},
{"k":"p","o":"1","n":"0","s":"F","r":2,"m":0.2,"lo":0,"hi":0.5},
{"k":"p","o":"1","n":"0","s":"F","r":3,"m":0.2,"lo":0,"hi":0.5},
{"k":"p","o":"1","n":"0","s":"F","r":4,"m":0.2,"lo":0,"hi":0.5},
{"k":"p","o":"1","n":"0","s":"F","r":5,"m":0.2,"lo":0,"hi":0.5},
{"k":"p","o":"1","n":"0","s":"F","r":6,"m":0.2,"lo":0,"hi":0.5},
{"k":"p","o":"1","n":"0","s":"F","r":7,"m":0.2,"lo":0,"hi":0.5},
{"k":"p","o":"1","n":"0","s":"F","r":8,"m":0.1,"lo":0,"hi":0.2},
{"k":"p","o":"1","n":"0","s":"F","r":9,"m":0,"lo":0,"hi":0},
{"k":"p","o":"1","n":"0","s":"F","r":10,"m":0,"lo":0,"hi":0},
{"k":"p","o":"1","n":"0","s":"F","r":11,"m":0,"lo":0,"hi":0},
{"k":"p","o":"1","n":"0","s":"F","r":12,"m":0,"lo":0,"hi":0},
{"k":"p","o":"1","n":"0","s":"Z","r":1,"m":6.5,"lo":0,"hi":21.8},
{"k":"p","o":"1","n":"0","s":"Z","r":2,"m":8.5,"lo":0,"hi":25.8},
{"k":"p","o":"1","n":"0","s":"Z","r":3,"m":9.6,"lo":0,"hi":27.1},
{"k":"p","o":"1","n":"0","s":"Z","r":4,"m":9.6,"lo":0,"hi":25.8},
{"k":"p","o":"1","n":"0","s":"Z","r":5,"m":7.5,"lo":0,"hi":20.5},
{"k":"p","o":"1","n":"0","s":"Z","r":6,"m":4.8,"lo":0,"hi":13.9},
{"k":"p","o":"1","n":"0","s":"Z","r":7,"m":2.6,"lo":0,"hi":7.9},
{"k":"p","o":"1","n":"0","s":"Z","r":8,"m":1.1,"lo":0,"hi":3.7},
{"k":"p","o":"1","n":"0","s":"Z","r":9,"m":0.4,"lo":0,"hi":1.5},
{"k":"p","o":"1","n":"0","s":"Z","r":10,"m":0.1,"lo":0,"hi":0.4},
{"k":"p","o":"1","n":"0","s":"Z","r":11,"m":0,"lo":0,"hi":0},
{"k":"p","o":"1","n":"0","s":"Z","r":12,"m":0,"lo":0,"hi":0}
]},
"facet":{
  "row":{"field":"n","type":"ordinal","sort":["1","0.5","0"],"title":"η(-NH...N-) [kcal/mol]",
    "header":{"labelOrient":"right","labelAngle":90,"titleOrient":"right","titleAngle":90,"labelFont":"Liberation Serif","labelFontSize":68,"labelPadding":1,"labelColor":"black","titleFont":"Liberation Serif","titleFontSize":76,"titleFontWeight":"normal","titleColor":"black","titlePadding":-20}},
  "column":{"field":"o","type":"ordinal","sort":["0","0.5","1"],"title":"η(-NH...O-) [kcal/mol]",
    "header":{"labelFont":"Liberation Serif","labelFontSize":68,"labelPadding":12,"labelColor":"black","titleFont":"Liberation Serif","titleFontSize":76,"titleFontWeight":"normal","titleColor":"black","titlePadding":-22}}
},
"spacing":{"row":82,"column":106},
"bounds":"flush",
"resolve":{"axis":{"x":"independent","y":"independent"}},
"spec":{
  "width":503,"height":390,
  "resolve":{"scale":{"y":"independent"},"axis":{"x":"independent","y":"independent"}},
  "layer":[
    {"transform":[{"filter":"datum.k==='p' && datum.hi>0"}],
     "mark":{"type":"errorbar","ticks":true,"size":12,"thickness":2.4},
     "encoding":{
       "x":{"field":"r","type":"quantitative","scale":{"domain":[0,13],"nice":false},"axis":null},
       "y":{"field":"lo","type":"quantitative","scale":{"domain":[0,100],"nice":false},"axis":null},
       "y2":{"field":"hi"},
       "color":{"field":"s","type":"nominal","scale":{"domain":["N","A","F","Z"],"range":["#2a3b92","#3cb44b","#e31d2b","#cccccc"]},
         "legend":{"orient":"none","legendX":1225,"legendY":1404,"columns":2,"title":null,"symbolType":"stroke","symbolSize":1444,"symbolStrokeWidth":5,"labelFont":"Liberation Serif","labelFontSize":47,"labelOffset":14,"columnPadding":20,"rowPadding":13,"padding":0,"labelLimit":600,
           "labelExpr":"datum.value === 'N' ? 'native state' : datum.value === 'F' ? 'folded loop' : datum.value === 'A' ? 'A-form stem' : 'Z-form stem'",
           "encode":{"labels":{"update":{"fill":{"signal":"datum.value === 'N' ? '#263d97' : datum.value === 'F' ? '#ec1c24' : datum.value === 'A' ? '#3db54a' : '#87888a'"}}},
                     "symbols":{"update":{"stroke":{"signal":"datum.value === 'N' ? '#283891' : datum.value === 'F' ? '#ef4136' : datum.value === 'A' ? '#0d9b48' : '#808285'"}}}}}}
     }},
    {"transform":[{"filter":"datum.k==='p'"}],
     "mark":{"type":"line","strokeWidth":2.8,"interpolate":"monotone"},
     "encoding":{
       "x":{"field":"r","type":"quantitative","scale":{"domain":[0,13],"nice":false},"axis":{"orient":"bottom","values":[1,2,3,4,5,6,7,8,9,10,11,12],"format":"d","labelPadding":10,"labelFlush":false,"labelOverlap":false}},
       "y":{"field":"m","type":"quantitative","scale":{"domain":[0,100],"nice":false},"axis":{"orient":"left","values":[0,20,40,60,80,100],"labelPadding":4,"labelFlush":false,"labelOverlap":false}},
       "color":{"field":"s","type":"nominal","scale":{"domain":["N","A","F","Z"],"range":["#2a3b92","#3cb44b","#e31d2b","#cccccc"]}}
     }},
    {"transform":[{"filter":"datum.k==='p'"}],
     "mark":{"type":"circle","size":26,"opacity":1},
     "encoding":{
       "x":{"field":"r","type":"quantitative","scale":{"domain":[0,13],"nice":false},"axis":{"orient":"top","values":[1,2,3,4,5,6,7,8,9,10,11,12],"labels":false,"ticks":true,"tickSize":-8,"tickWidth":2.4,"tickColor":"black"}},
       "y":{"field":"m","type":"quantitative","scale":{"domain":[0,100],"nice":false},"axis":{"orient":"right","values":[20,40,60,80],"labels":false,"ticks":true,"tickSize":-8,"tickWidth":2.4,"tickColor":"black"}},
       "color":{"field":"s","type":"nominal","scale":{"domain":["N","A","F","Z"],"range":["#2a3b92","#3cb44b","#e31d2b","#cccccc"]}}
     }},
    {"transform":[{"filter":"datum.k==='a'"}],
     "mark":{"type":"text","align":"right","baseline":"middle","dx":-27,"font":"Liberation Serif","fontSize":47},
     "encoding":{
       "x":{"datum":9.5,"type":"quantitative","scale":{"domain":[0,13],"nice":false},"axis":null},
       "y":{"field":"line","type":"ordinal","scale":{"type":"point","domain":[1,2,3,4],"range":[60,207],"padding":0},"axis":null},
       "fill":{"field":"s","type":"nominal","scale":{"domain":["N","A","F","Z"],"range":["#263d97","#3db54a","#ec1c24","#87888a"]},"legend":null},
       "text":{"field":"a"}
     }},
    {"transform":[{"filter":"datum.k==='a'"}],
     "mark":{"type":"text","align":"center","baseline":"middle","font":"Liberation Serif","fontSize":47},
     "encoding":{
       "x":{"datum":9.5,"type":"quantitative","scale":{"domain":[0,13],"nice":false},"axis":null},
       "y":{"field":"line","type":"ordinal","scale":{"type":"point","domain":[1,2,3,4],"range":[60,207],"padding":0},"axis":null},
       "fill":{"field":"s","type":"nominal","scale":{"domain":["N","A","F","Z"],"range":["#263d97","#3db54a","#ec1c24","#87888a"]},"legend":null},
       "text":{"value":"±"}
     }},
    {"transform":[{"filter":"datum.k==='a'"}],
     "mark":{"type":"text","align":"left","baseline":"middle","dx":27,"font":"Liberation Serif","fontSize":47},
     "encoding":{
       "x":{"datum":9.5,"type":"quantitative","scale":{"domain":[0,13],"nice":false},"axis":null},
       "y":{"field":"line","type":"ordinal","scale":{"type":"point","domain":[1,2,3,4],"range":[60,207],"padding":0},"axis":null},
       "fill":{"field":"s","type":"nominal","scale":{"domain":["N","A","F","Z"],"range":["#263d97","#3db54a","#ec1c24","#87888a"]},"legend":null},
       "text":{"field":"b"}
     }}
  ]
}
}]
}
